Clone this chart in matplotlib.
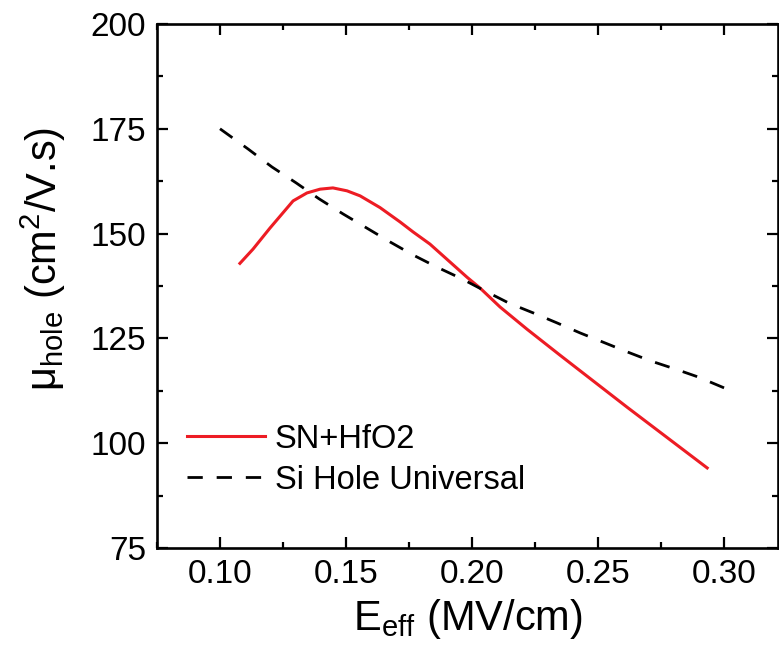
import matplotlib
matplotlib.use("Agg")
import matplotlib.pyplot as plt
from matplotlib.ticker import MultipleLocator

plt.rcParams['font.family'] = ['Liberation Sans', 'DejaVu Sans']
plt.rcParams['mathtext.fontset'] = 'custom'
plt.rcParams['mathtext.rm'] = 'Liberation Sans'
plt.rcParams['mathtext.it'] = 'Liberation Sans:italic'

# SN+HfO2 measured hole mobility
sn_x = [0.1079, 0.1131, 0.1198, 0.1290, 0.1345, 0.1397, 0.1448, 0.1504, 0.1556,
        0.1635, 0.1714, 0.1766, 0.1833, 0.1913, 0.1980, 0.2032, 0.2111, 0.2218,
        0.2349, 0.2615, 0.2933]
sn_y = [142.9, 146.3, 151.3, 157.8, 159.7, 160.6, 160.9, 160.2, 159.0,
        156.2, 152.8, 150.4, 147.5, 143.2, 139.6, 137.0, 132.5, 127.2,
        121.0, 108.6, 94.1]

# Si hole universal mobility
si_x = [0.1000, 0.1111, 0.1206, 0.1302, 0.1393, 0.1488, 0.1583, 0.1675, 0.1766,
        0.1861, 0.1960, 0.2052, 0.2147, 0.2242, 0.2337, 0.2429, 0.2520, 0.2615,
        0.2710, 0.2806, 0.2897, 0.3000]
si_y = [175.0, 170.2, 165.9, 162.1, 158.3, 154.7, 151.3, 148.0, 144.9,
        142.0, 139.2, 136.3, 133.4, 131.1, 128.7, 126.3, 124.1, 121.8,
        119.6, 117.7, 115.8, 113.2]

x_ticks = [0.10, 0.15, 0.20, 0.25, 0.30]
y_ticks = [75, 100, 125, 150, 175, 200]

fig = plt.figure(figsize=(7.79, 6.59), dpi=100)
ax = fig.add_axes([157/779, 1-548/659, 621/779, 524/659])

ax.plot(sn_x, sn_y, color='#ED1C24', lw=2.2, label='SN+HfO2')
ax.plot(si_x, si_y, color='black', lw=2.0, dashes=(5.5, 5), label='Si Hole Universal')

ax.set_xlim(0.075, 0.3214)
ax.set_ylim(75, 200)
ax.set_xticks(x_ticks)
ax.set_xticklabels([f"{v:.2f}" for v in x_ticks])
ax.set_yticks(y_ticks)
ax.xaxis.set_minor_locator(MultipleLocator(0.025))
ax.yaxis.set_minor_locator(MultipleLocator(12.5))

for s in ax.spines.values():
    s.set_linewidth(1.9)
ax.tick_params(which='both', direction='in', top=True, right=True, labelsize=24, width=1.6)
ax.tick_params(which='major', length=8)
ax.tick_params(which='minor', length=4.5)
ax.tick_params(axis='x', pad=8)
ax.tick_params(axis='y', pad=8)

ax.set_xlabel(r'E$_{\mathregular{eff}}$ (MV/cm)', fontsize=30, labelpad=5)
ax.set_ylabel(r'$\mathregular{\mu_{hole}}$ (cm$^{\mathregular{2}}$/V.s)', fontsize=30)
ax.yaxis.set_label_coords(-0.143, 0.5515)

ax.legend(loc='upper left', bbox_to_anchor=(0.048, 0.237), frameon=False,
          fontsize=23.5, handlelength=2.4, handletextpad=0.3, labelspacing=0.3,
          borderpad=0, borderaxespad=0)

fig.savefig('out.png', dpi=100)
